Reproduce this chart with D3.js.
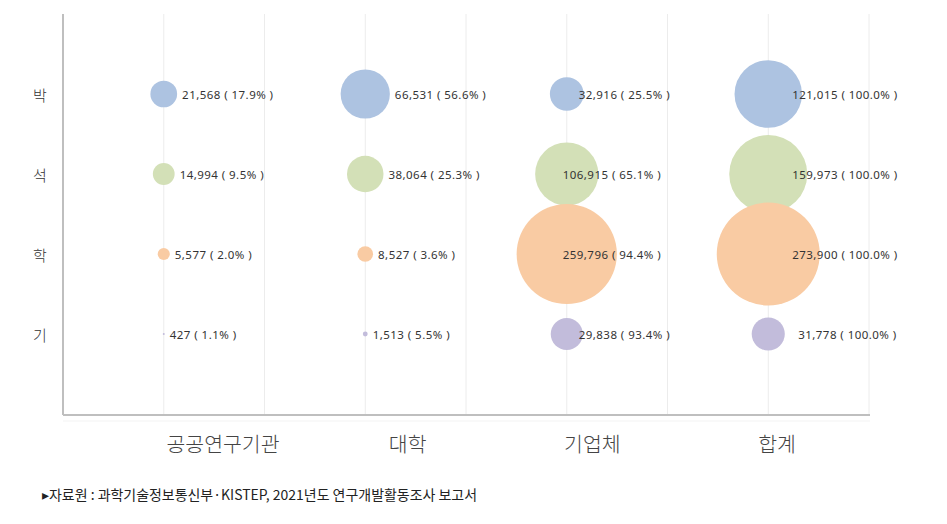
<!DOCTYPE html>
<html><head><meta charset="utf-8">
<script src="https://cdn.jsdelivr.net/npm/d3@7"></script>
<style>body{margin:0;background:#fff}svg{display:block}</style>
</head><body>
<svg id="c" width="947" height="524"></svg>
<script>
const categories = ["공공연구기관", "대학", "기업체", "합계"];
const degrees = ["박", "석", "학", "기"];
const counts = [
  [21568, 66531, 32916, 121015],
  [14994, 38064, 106915, 159973],
  [5577, 8527, 259796, 273900],
  [427, 1513, 29838, 31778]
];
const shares = [
  [17.9, 56.6, 25.5, 100.0],
  [9.5, 25.3, 65.1, 100.0],
  [2.0, 3.6, 94.4, 100.0],
  [1.1, 5.5, 93.4, 100.0]
];
const xPos = [1, 3, 5, 7];
const yPos = [4, 3, 2, 1];
const xTicks = [1, 2, 3, 4, 5, 6, 7, 8];
const source = "▸자료원 : 과학기술정보통신부·KISTEP, 2021년도 연구개발활동조사 보고서";

const colors = ["#adc3e1", "#d3e0b7", "#f9cba3", "#c2bcdb"];
const svg = d3.select("#c");
const x = d3.scaleLinear().domain([0, 8]).range([63, 869]);
const y = d3.scaleLinear().domain([0, 5]).range([414, 14]);
const r = d3.scaleSqrt().domain([0, 273900]).range([0, 53]);
const rad = v => Math.max(1, r(v) - 1.5);
const fmt = d3.format(",");

// gridlines
svg.append("g").selectAll("line").data(xTicks).join("line")
  .attr("x1", d => x(d)).attr("x2", d => x(d))
  .attr("y1", y(5)).attr("y2", y(0))
  .attr("stroke", "#ececec").attr("stroke-width", 1);

// axes
svg.append("line").attr("x1", x(0)).attr("x2", x(0)).attr("y1", y(5)).attr("y2", y(0) + 1)
  .attr("stroke", "#bfbfbf").attr("stroke-width", 2);
svg.append("line").attr("x1", x(0)).attr("x2", x(8) + 1).attr("y1", y(0) + 1).attr("y2", y(0) + 1)
  .attr("stroke", "#bfbfbf").attr("stroke-width", 2);
svg.append("line").attr("x1", x(0)).attr("x2", x(8) + 1).attr("y1", 421).attr("y2", 421)
  .attr("stroke", "#f3f3f3").attr("stroke-width", 1);

// row labels
svg.append("g").selectAll("text").data(degrees).join("text")
  .attr("x", 40).attr("y", (d, i) => y(yPos[i]))
  .attr("text-anchor", "middle").attr("dominant-baseline", "central")
  .attr("font-family", "'Noto Sans CJK KR', sans-serif").attr("font-size", 15)
  .attr("font-weight", 300)
  .attr("fill", "#333").text(d => d);

// bubbles
const pts = [];
counts.forEach((row, i) => row.forEach((v, j) => pts.push({i, j, v, p: shares[i][j]})));
svg.append("g").selectAll("circle").data(pts).join("circle")
  .attr("cx", d => x(xPos[d.j])).attr("cy", d => y(yPos[d.i]))
  .attr("r", d => rad(d.v))
  .attr("fill", d => colors[d.i]);

function labelDx(d) {
  const rr = rad(d.v);
  if (d.j < 2) return rr + 5;
  if (d.j === 2) return rr < 25 ? 12 : -4;
  return rr < 25 ? 30 : 24;
}
svg.append("g").selectAll("text").data(pts).join("text")
  .attr("x", d => x(xPos[d.j]) + labelDx(d)).attr("y", d => y(yPos[d.i]))
  .attr("dominant-baseline", "central")
  .attr("font-family", "'Noto Sans', 'Open Sans', sans-serif").attr("font-size", 11.5)
  .attr("letter-spacing", 0.45)
  .attr("fill", "#333")
  .text(d => `${fmt(d.v)} ( ${d.p.toFixed(1)}% )`);

// category labels
const cx = d3.scalePoint().domain(categories).range([223, 777]);
svg.append("g").selectAll("text").data(categories).join("text")
  .attr("x", d => cx(d)).attr("y", 443)
  .attr("text-anchor", "middle").attr("dominant-baseline", "central")
  .attr("font-family", "'Noto Sans CJK KR', sans-serif").attr("font-size", 20.5)
  .attr("font-weight", 300)
  .attr("fill", "#444").text(d => d);

// source
svg.append("text").attr("x", 42).attr("y", 494)
  .attr("dominant-baseline", "central")
  .attr("font-family", "'Noto Sans CJK KR', sans-serif").attr("font-size", 14)
  .attr("font-weight", 400)
  .attr("textLength", 435).attr("lengthAdjust", "spacingAndGlyphs")
  .attr("fill", "#222").text(source);
</script>
</body></html>
